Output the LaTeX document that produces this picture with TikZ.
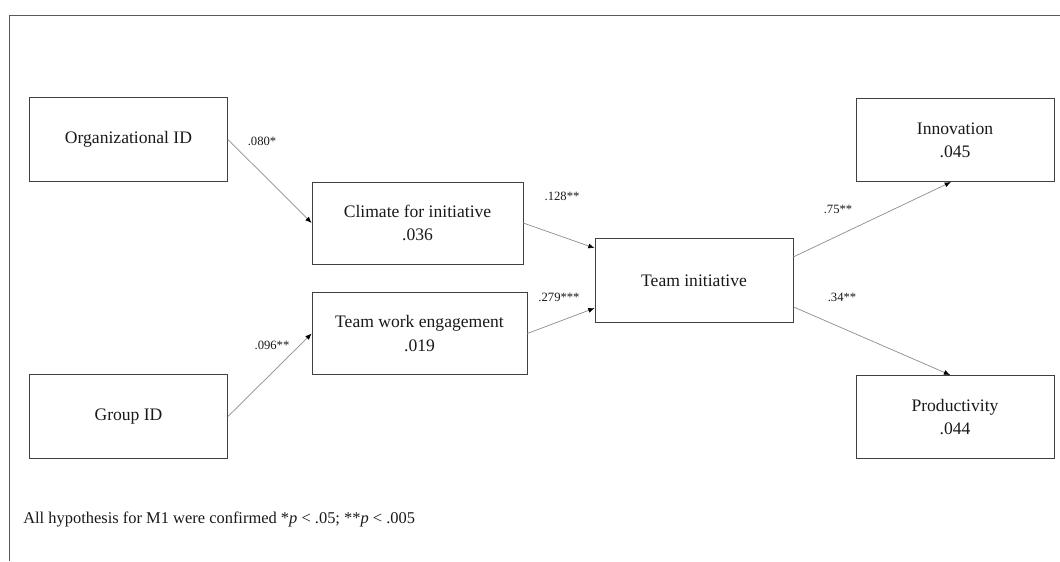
\documentclass[tikz,border=0pt]{standalone}
\usepackage{fontspec}
\setmainfont{Liberation Serif}
\usetikzlibrary{arrows.meta}

\begin{document}
\begin{tikzpicture}[x=0.025cm, y=-0.025cm,
    var/.style={draw=black!75, line width=0.6pt, minimum width=4.95cm, minimum height=2.08cm,
      align=center, font=\fontsize{12.5}{16.5}\selectfont, text=black!90},
    path/.style={draw=black!45, line width=0.5pt, -{Latex[length=4.5pt,width=3.6pt,black]}},
    coef/.style={font=\fontsize{9}{10}\selectfont, text=black!90}]
  \useasboundingbox (0,0) rectangle (1060,561);
  % frame
  \draw[black!65, line width=0.7pt] (1060,15) -- (9,15) -- (9,561);

  \node[var] (org)  at (128.5,139.5) {Organizational ID};
  \node[var] (grp)  at (128.5,416.5) {Group ID};
  \node[var, minimum width=5.27cm, minimum height=2.05cm] (clim) at (417.5,223) {Climate for initiative\\.036};
  \node[var, minimum width=5.37cm, minimum height=2.07cm] (twe)  at (419.5,333.5) {Team work engagement\\.019};
  \node[var] (ti)   at (694,280.5) {Team initiative};
  \node[var] (inno) at (955,140) {Innovation\\.045};
  \node[var] (prod) at (955,417) {Productivity\\.044};

  \draw[path] (org.east) -- (clim.west);
  \draw[path] (grp.east) -- (twe.west);
  \draw[path] (clim.east) -- ([yshift=0.81cm]ti.west);
  \draw[path] (twe.east) -- ([yshift=-0.69cm]ti.west);
  \draw[path] ([yshift=0.59cm]ti.east) -- ([xshift=-0.1cm]inno.south);
  \draw[path] ([yshift=-0.66cm]ti.east) -- ([xshift=-0.12cm]prod.north);

  \node[coef] (c1) at (262,141) {.080*};
  \node[coef] (c2) at (272,345) {.096**};
  \node[coef] (c3) at (562,196) {.128**};
  \node[coef] (c4) at (559,297) {.279***};
  \node[coef] (c5) at (838,209) {.75**};
  \node[coef] (c6) at (842,297) {.34**};

  \node[anchor=west, inner sep=0pt, font=\fontsize{11.7}{13}\selectfont, text=black!90] (note) at (23,519)
    {All hypothesis for M1 were confirmed *\textit{p} < .05; **\textit{p} < .005};
\end{tikzpicture}
\end{document}
